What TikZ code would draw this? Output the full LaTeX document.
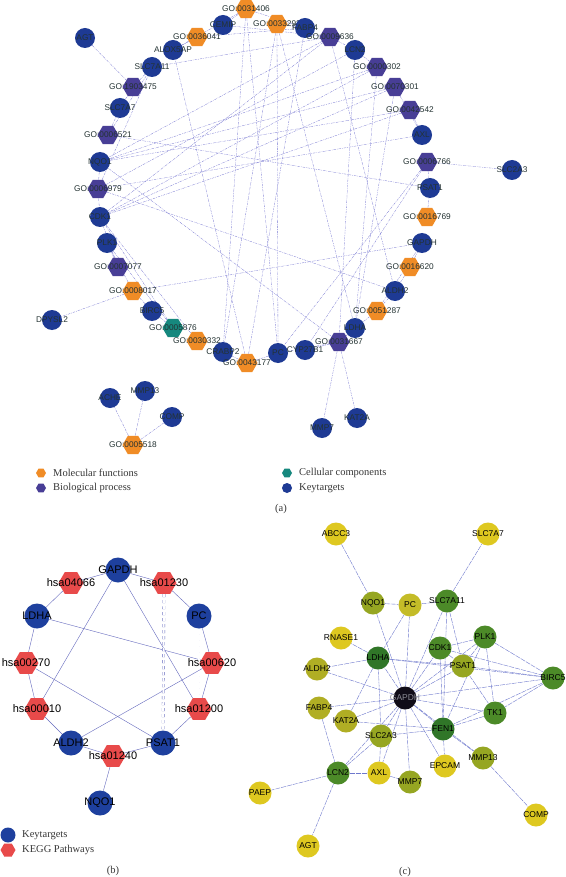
\documentclass[tikz,border=0pt]{standalone}
\usepackage{fontspec}
\setmainfont{Liberation Serif}
\setsansfont{Liberation Sans}
\usetikzlibrary{shapes.geometric}
\pgfdeclarelayer{bg}
\pgfsetlayers{bg,main}
\definecolor{ktblue}{RGB}{30,58,148}
\definecolor{bppurple}{RGB}{72,62,150}
\definecolor{mforange}{RGB}{240,140,38}
\definecolor{ccteal}{RGB}{22,136,126}
\definecolor{labcol}{RGB}{35,50,50}
\definecolor{edgea}{RGB}{120,120,210}
\definecolor{ktbblue}{RGB}{30,64,158}
\definecolor{keggred}{RGB}{232,74,74}
\definecolor{edgeb}{RGB}{100,105,190}
\definecolor{edgec}{RGB}{110,120,205}
\definecolor{leggray}{RGB}{55,55,55}
\definecolor{cyel}{RGB}{222,200,32}
\definecolor{cyel2}{RGB}{196,188,40}
\definecolor{coly}{RGB}{176,174,36}
\definecolor{coly2}{RGB}{150,166,34}
\definecolor{cgrn}{RGB}{76,138,40}
\definecolor{cdgrn}{RGB}{48,118,40}
\definecolor{cblk}{RGB}{16,12,24}
\definecolor{gaplab}{RGB}{140,140,150}
\tikzset{
  hexa/.style={regular polygon, regular polygon sides=6, inner sep=0pt, draw=none},
  kt/.style={circle, fill=ktblue, minimum size=20pt, inner sep=0pt},
  mf/.style={hexa, fill=mforange, minimum size=21pt},
  bp/.style={hexa, fill=bppurple, minimum size=21pt},
  cc/.style={hexa, fill=ccteal, minimum size=21pt},
  lab/.style={font=\sffamily\fontsize{8.3}{9}\selectfont, text=labcol, inner sep=0pt},
  ea/.style={draw=edgea, line width=0.3pt, dash pattern=on 2.5pt off 1pt on 0.7pt off 1pt},
  ktb/.style={circle, fill=ktbblue, minimum size=25pt, inner sep=0pt},
  kg/.style={hexa, fill=keggred, minimum size=25pt},
  labb/.style={font=\sffamily\fontsize{11}{12}\selectfont, text=black, inner sep=0pt},
  eb/.style={draw=edgeb, line width=0.4pt},
  ebd/.style={draw=edgeb, line width=0.35pt, dashed, double=white, double distance=2pt},
  cn/.style={circle, minimum size=23pt, inner sep=0pt},
  labc/.style={font=\sffamily\fontsize{8.5}{9}\selectfont, text=black, inner sep=0pt},
  ec/.style={draw=edgec, line width=0.4pt, dash pattern=on 5pt off 1pt},
  leg/.style={font=\fontsize{10.5}{12}\selectfont, text=leggray, anchor=west, inner sep=0pt},
  captext/.style={font=\fontsize{10.5}{12}\selectfont, text=leggray, inner sep=0pt},
}
\begin{document}
\begin{tikzpicture}[x=1pt,y=-1pt]
\useasboundingbox (0,0) rectangle (565,877);
% ================= panel (a) =================
\node[kt, label={[lab]center:AGT}] (a-agt) at (85,38) {};
\node[kt, label={[lab]center:CEMIP}] (a-cemip) at (223,25) {};
\node[mf, label={[lab]center:GO:0031406}] (a-g31406) at (246,9) {};
\node[mf, label={[lab]center:GO:0033293}] (a-g33293) at (277,24) {};
\node[mf, label={[lab]center:GO:0036041}] (a-g36041) at (197,37) {};
\node[kt, label={[lab]center:ALOX5AP}] (a-alox) at (173,50) {};
\node[kt, label={[lab]center:SLC7A11}] (a-slc7a11) at (152,67) {};
\node[bp, label={[lab]center:GO:1903475}] (a-g1903475) at (133,87) {};
\node[kt, label={[lab]center:SLC7A7}] (a-slc7a7) at (120,108) {};
\node[bp, label={[lab]center:GO:0006521}] (a-g6521) at (108,135) {};
\node[kt, label={[lab]center:FABP4}] (a-fabp4) at (305,28) {};
\node[bp, label={[lab]center:GO:0009636}] (a-g9636) at (330,37) {};
\node[kt, label={[lab]center:LCN2}] (a-lcn2) at (355,50) {};
\node[bp, label={[lab]center:GO:0000302}] (a-g302) at (377,67) {};
\node[bp, label={[lab]center:GO:0070301}] (a-g70301) at (395,87) {};
\node[bp, label={[lab]center:GO:0042542}] (a-g42542) at (410,110) {};
\node[kt, label={[lab]center:AXL}] (a-axl) at (422,135) {};
\node[kt, label={[lab]center:NQO1}] (a-nqo1) at (100,162) {};
\node[bp, label={[lab]center:GO:0006979}] (a-g6979) at (98,189) {};
\node[kt, label={[lab]center:CDK1}] (a-cdk1) at (100,217) {};
\node[kt, label={[lab]center:PLK1}] (a-plk1) at (107,243) {};
\node[bp, label={[lab]center:GO:0007077}] (a-g7077) at (118,267) {};
\node[mf, label={[lab]center:GO:0008017}] (a-g8017) at (133,291) {};
\node[kt, label={[lab]center:BIRC5}] (a-birc5) at (152,311) {};
\node[kt, label={[lab]center:DPYSL2}] (a-dpysl2) at (52,320) {};
\node[cc, label={[lab]center:GO:0005876}] (a-g5876) at (173,328) {};
\node[mf, label={[lab]center:GO:0030332}] (a-g30332) at (197,341) {};
\node[kt, label={[lab]center:CRABP2}] (a-crabp2) at (223,352) {};
\node[mf, label={[lab]center:GO:0043177}] (a-g43177) at (247,363) {};
\node[kt, label={[lab]center:PC}] (a-pc) at (278,353) {};
\node[kt, label={[lab]center:CYP27B1}] (a-cyp) at (305,350) {};
\node[bp, label={[lab]center:GO:0031667}] (a-g31667) at (339,342) {};
\node[kt, label={[lab]center:LDHA}] (a-ldha) at (355,328) {};
\node[mf, label={[lab]center:GO:0051287}] (a-g51287) at (377,311) {};
\node[kt, label={[lab]center:ALDH2}] (a-aldh2) at (395,291) {};
\node[mf, label={[lab]center:GO:0016620}] (a-g16620) at (410,267) {};
\node[kt, label={[lab]center:GAPDH}] (a-gapdh) at (422,243) {};
\node[mf, label={[lab]center:GO:0016769}] (a-g16769) at (427,217) {};
\node[kt, label={[lab]center:PSAT1}] (a-psat1) at (430,188) {};
\node[bp, label={[lab]center:GO:0006766}] (a-g6766) at (427,162) {};
\node[kt, label={[lab]center:SLC2A3}] (a-slc2a3) at (512,170) {};
\node[kt, label={[lab]center:MMP7}] (a-mmp7) at (322,428) {};
\node[kt, label={[lab]center:KAT2A}] (a-kat2a) at (357,418) {};
\node[kt, label={[lab]center:ACHE}] (a-ache) at (110,398) {};
\node[kt, label={[lab]center:MMP13}] (a-mmp13) at (145,391) {};
\node[kt, label={[lab]center:COMP}] (a-comp) at (172,417) {};
\node[mf, label={[lab]center:GO:0005518}] (a-g5518) at (133,445) {};
% legend (a)
\node[mf, minimum size=10pt] (la-mf) at (41,473) {};
\node[leg] (lt-mf) at (53,473) {Molecular functions};
\node[bp, minimum size=10pt] (la-bp) at (41,488) {};
\node[leg] (lt-bp) at (53,488) {Biological process};
\node[cc, minimum size=10pt] (la-cc) at (287,473) {};
\node[leg] (lt-cc) at (299,473) {Cellular components};
\node[kt, minimum size=10pt] (la-kt) at (287,488) {};
\node[leg] (lt-kt) at (299,488) {Keytargets};
\node[captext] (cap-a) at (281,509) {(a)};
% ================= panel (b) =================
\node[ktb, label={[labb]center:GAPDH}] (b-gapdh) at (118,570) {};
\node[kg, label={[labb]center:hsa04066}] (b-h04066) at (71,583) {};
\node[kg, label={[labb]center:hsa01230}] (b-h01230) at (164,583) {};
\node[ktb, label={[labb]center:LDHA}] (b-ldha) at (37,616) {};
\node[ktb, label={[labb]center:PC}] (b-pc) at (199,616) {};
\node[kg, label={[labb]center:hsa00270}] (b-h00270) at (26,663) {};
\node[kg, label={[labb]center:hsa00620}] (b-h00620) at (212,663) {};
\node[kg, label={[labb]center:hsa00010}] (b-h00010) at (37,709) {};
\node[kg, label={[labb]center:hsa01200}] (b-h01200) at (199,709) {};
\node[ktb, label={[labb]center:ALDH2}] (b-aldh2) at (71,743) {};
\node[ktb, label={[labb]center:PSAT1}] (b-psat1) at (163,743) {};
\node[kg, label={[labb]center:hsa01240}] (b-h01240) at (113,756) {};
\node[ktb, label={[labb]center:NQO1}] (b-nqo1) at (100,803) {};
\node[ktb, minimum size=15pt] (lb-kt) at (8,835) {};
\node[leg] (lbt-kt) at (22,835) {Keytargets};
\node[kg, minimum size=15pt] (lb-kg) at (8,850) {};
\node[leg] (lbt-kg) at (22,850) {KEGG Pathways};
\node[captext] (cap-b) at (113,871) {(b)};
% ================= panel (c) =================
\node[cn, fill=cyel, label={[labc]center:ABCC3}] (c-abcc3) at (336,534) {};
\node[cn, fill=cyel, label={[labc]center:SLC7A7}] (c-slc7a7) at (488,534) {};
\node[cn, fill=coly2, label={[labc]center:NQO1}] (c-nqo1) at (373,603) {};
\node[cn, fill=cyel2, label={[labc]center:PC}] (c-pc) at (410,605) {};
\node[cn, fill=cgrn, label={[labc]center:SLC7A11}] (c-slc7a11) at (447,601) {};
\node[cn, fill=cyel, label={[labc]center:RNASE1}] (c-rnase1) at (341,638) {};
\node[cn, fill=cgrn, label={[labc]center:PLK1}] (c-plk1) at (485,637) {};
\node[cn, fill=cgrn, label={[labc]center:CDK1}] (c-cdk1) at (440,648) {};
\node[cn, fill=cdgrn, label={[labc]center:LDHA}] (c-ldha) at (378,658) {};
\node[cn, fill=coly, label={[labc]center:ALDH2}] (c-aldh2) at (317,669) {};
\node[cn, fill=coly2, label={[labc]center:PSAT1}] (c-psat1) at (463,666) {};
\node[cn, fill=cgrn, label={[labc]center:BIRC5}] (c-birc5) at (553,678) {};
\node[cn, fill=cblk, label={[labc, text=gaplab]center:GAPDH}] (c-gapdh) at (405,698) {};
\node[cn, fill=coly, label={[labc]center:FABP4}] (c-fabp4) at (319,708) {};
\node[cn, fill=coly, label={[labc]center:KAT2A}] (c-kat2a) at (346,721) {};
\node[cn, fill=cgrn, label={[labc]center:TK1}] (c-tk1) at (495,713) {};
\node[cn, fill=cdgrn, label={[labc]center:FEN1}] (c-fen1) at (443,729) {};
\node[cn, fill=coly2, label={[labc]center:SLC2A3}] (c-slc2a3) at (381,736) {};
\node[cn, fill=cgrn, label={[labc]center:LCN2}] (c-lcn2) at (338,773) {};
\node[cn, fill=cyel, label={[labc]center:AXL}] (c-axl) at (379,773) {};
\node[cn, fill=coly2, label={[labc]center:MMP7}] (c-mmp7) at (410,782) {};
\node[cn, fill=cyel, label={[labc]center:EPCAM}] (c-epcam) at (445,766) {};
\node[cn, fill=coly2, label={[labc]center:MMP13}] (c-mmp13) at (483,758) {};
\node[cn, fill=cyel, label={[labc]center:COMP}] (c-comp) at (536,815) {};
\node[cn, fill=cyel, label={[labc]center:AGT}] (c-agt) at (308,846) {};
\node[cn, fill=cyel, label={[labc]center:PAEP}] (c-paep) at (260,793) {};
\node[captext] (cap-c) at (405,872) {(c)};
% ================= edges =================
\begin{pgfonlayer}{bg}
\fill[white] (0,0) rectangle (565,877);
\foreach \u/\v in {agt/g1903475, slc7a11/g1903475, slc7a7/g1903475, g36041/alox, g36041/fabp4,
  g31406/fabp4, g31406/crabp2, g31406/pc, g31406/alox, g33293/fabp4, g33293/pc, g33293/ldha,
  g33293/crabp2, g43177/fabp4, g43177/crabp2, g43177/pc, g43177/alox, g9636/lcn2, g9636/nqo1,
  g9636/cdk1, g9636/aldh2, g9636/slc7a11, g302/nqo1, g302/cdk1, g302/lcn2, g302/ldha,
  g70301/nqo1, g70301/cdk1, g70301/axl, g70301/ldha, g42542/nqo1, g42542/axl, g42542/cdk1,
  g6979/nqo1, g6979/cdk1, g6979/aldh2, g6979/slc7a11, g6979/axl, g6979/lcn2, g6766/slc2a3,
  g6766/pc, g6766/cyp, g6766/psat1, g16769/psat1, g16620/gapdh, g16620/aldh2,
  g51287/ldha, g51287/gapdh, g51287/aldh2, g31667/mmp7, g31667/kat2a, g31667/ldha, g31667/lcn2,
  g31667/nqo1, g31667/pc, g31667/cyp, g30332/cdk1, g5876/birc5, g5876/cdk1, g5876/plk1,
  g8017/birc5, g8017/dpysl2, g8017/gapdh, g8017/plk1, g7077/cdk1, g7077/plk1, g6521/slc7a11,
  g6521/slc7a7, g6521/psat1, g5518/ache, g5518/mmp13, g5518/comp, cemip/g9636, g31406/cemip}
  \draw[ea] (a-\u) -- (a-\v);
\foreach \u/\v in {gapdh/h04066, gapdh/h01230, h04066/ldha, h01230/pc, ldha/h00270, pc/h00620,
  h00010/aldh2, h01200/psat1, aldh2/h01240, h01240/psat1, h01240/nqo1, gapdh/h00010,
  gapdh/h01200, ldha/h00620, h00270/psat1, h00620/aldh2, h00270/h00010, h00620/h01200}
  \draw[eb] (b-\u) -- (b-\v);
\foreach \u/\v in {ldha/h00010, h01230/psat1, pc/h01200}
  \draw[ebd] (b-\u) -- (b-\v);
\foreach \v in {nqo1, pc, slc7a11, ldha, cdk1, psat1, plk1, birc5, tk1, fen1, slc2a3, kat2a,
  fabp4, aldh2, lcn2, mmp7, epcam, mmp13, axl}
  \draw[ec] (c-gapdh) -- (c-\v);
\foreach \u/\v in {abcc3/nqo1, nqo1/pc, pc/slc7a11, slc7a11/slc7a7, slc7a11/psat1, slc7a11/fen1,
  pc/ldha, plk1/cdk1, plk1/psat1, plk1/birc5, plk1/tk1, plk1/fen1, cdk1/psat1, cdk1/birc5,
  cdk1/fen1, psat1/birc5, psat1/tk1, birc5/tk1, birc5/fen1, tk1/fen1, ldha/psat1, ldha/aldh2,
  ldha/rnase1, ldha/slc2a3, ldha/kat2a, ldha/birc5, fabp4/lcn2, fen1/slc2a3, fen1/epcam,
  fen1/mmp13, mmp13/comp, lcn2/slc2a3, lcn2/axl, lcn2/paep, lcn2/agt, axl/slc2a3, axl/mmp7,
  kat2a/fen1}
  \draw[ec] (c-\u) -- (c-\v);
\end{pgfonlayer}
\end{tikzpicture}
\end{document}
